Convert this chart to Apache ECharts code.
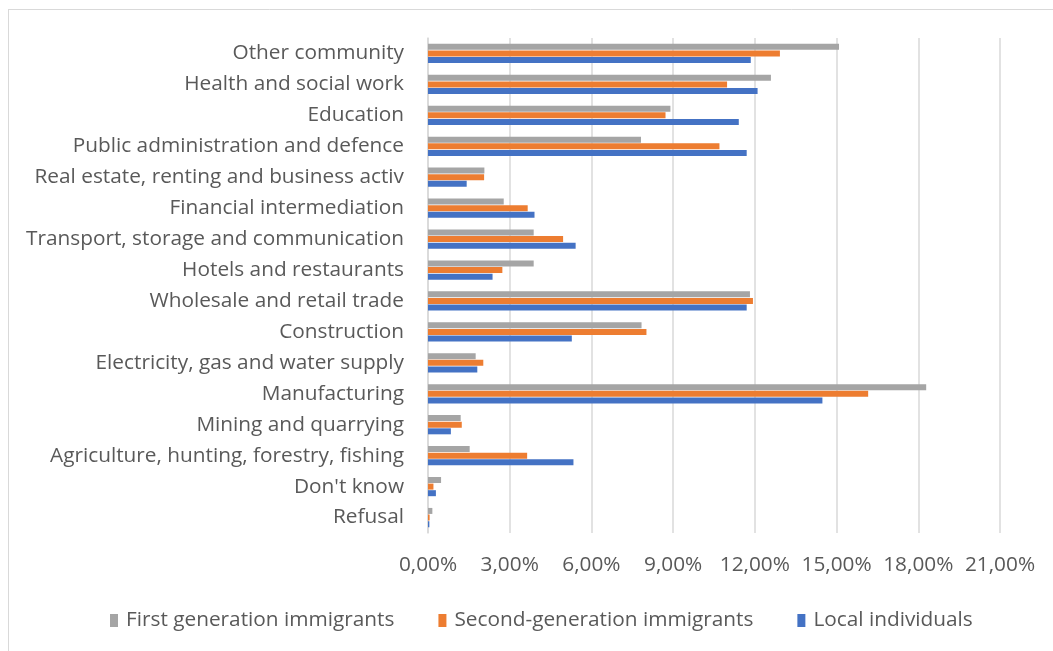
<!DOCTYPE html>
<html>
<head>
<meta charset="utf-8">
<script src="https://cdn.jsdelivr.net/npm/echarts@6/dist/echarts.min.js"></script>
<style>
  html, body { margin: 0; padding: 0; background: #fff; }
  #chart { width: 1053px; height: 651px; }
</style>
</head>
<body>
<div id="chart"></div>
<script>
// Industry categories, listed bottom to top
const categories = [
  "Refusal",
  "Don't know",
  "Agriculture, hunting, forestry, fishing",
  "Mining and quarrying",
  "Manufacturing",
  "Electricity, gas and water supply",
  "Construction",
  "Wholesale and retail trade",
  "Hotels and restaurants",
  "Transport, storage and communication",
  "Financial intermediation",
  "Real estate, renting and business activ",
  "Public administration and defence",
  "Education",
  "Health and social work",
  "Other community"
];

// Share of employment per group (%)
const firstGeneration = [0.16, 0.48, 1.53, 1.20, 18.29, 1.75, 7.84, 11.82, 3.88, 3.88, 2.78, 2.07, 7.82, 8.90, 12.59, 15.09];
const secondGeneration = [0.06, 0.20, 3.64, 1.24, 16.16, 2.03, 8.02, 11.93, 2.73, 4.96, 3.66, 2.06, 10.70, 8.72, 10.98, 12.92];
const localIndividuals = [0.05, 0.29, 5.34, 0.84, 14.48, 1.81, 5.28, 11.70, 2.37, 5.42, 3.91, 1.42, 11.70, 11.41, 12.10, 11.85];

const seriesNames = ["First generation immigrants", "Second-generation immigrants", "Local individuals"];
const seriesColors = ["#a5a5a5", "#ed7d31", "#4472c4"];

const textColor = "#595959";
const fontFamily = "'Open Sans', sans-serif";
const fontSize = 20.8;

const chart = echarts.init(document.getElementById('chart'));

const makeSeries = (name, data, color) => ({
  name: name,
  type: 'bar',
  data: data,
  barWidth: 6,
  barGap: '10%',
  itemStyle: { color: color },
  emphasis: { disabled: true }
});

chart.setOption({
  animation: false,
  backgroundColor: '#ffffff',
  textStyle: { fontFamily: fontFamily, color: textColor },
  grid: { left: 428, right: 53, top: 38, bottom: 118, containLabel: false },
  xAxis: {
    type: 'value',
    min: 0,
    max: 21,
    interval: 3,
    axisLine: { show: false },
    axisTick: { show: false },
    splitLine: { lineStyle: { color: '#d9d9d9', width: 1.5 } },
    axisLabel: {
      color: textColor,
      fontSize: fontSize,
      fontFamily: fontFamily,
      margin: 22,
      formatter: v => v.toFixed(2).replace('.', ',') + '%'
    }
  },
  yAxis: {
    type: 'category',
    data: categories,
    axisLine: { show: true, lineStyle: { color: '#d9d9d9', width: 1.5 } },
    axisTick: { show: false },
    axisLabel: {
      color: textColor,
      fontSize: fontSize,
      fontFamily: fontFamily,
      margin: 24,
      interval: 0
    }
  },
  legend: {
    left: 105,
    top: 605,
    itemWidth: 8,
    itemHeight: 13,
    itemGap: 44,
    icon: 'rect',
    textStyle: { color: textColor, fontSize: fontSize, fontFamily: fontFamily, padding: [0, 0, 0, 3] },
    data: seriesNames
  },
  graphic: [
    { type: 'line', shape: { x1: 8, y1: 9.5, x2: 1053, y2: 9.5 }, style: { stroke: '#d9d9d9', lineWidth: 1 } },
    { type: 'line', shape: { x1: 8.5, y1: 9, x2: 8.5, y2: 651 }, style: { stroke: '#d9d9d9', lineWidth: 1 } }
  ],
  series: [
    makeSeries(seriesNames[0], firstGeneration, seriesColors[0]),
    makeSeries(seriesNames[1], secondGeneration, seriesColors[1]),
    makeSeries(seriesNames[2], localIndividuals, seriesColors[2])
  ]
});
</script>
</body>
</html>
